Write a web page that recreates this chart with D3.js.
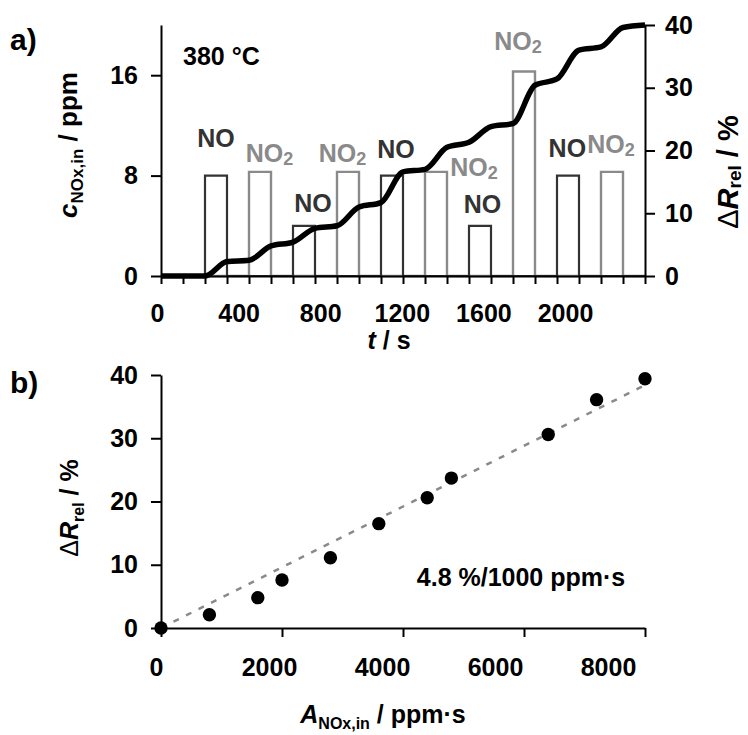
<!DOCTYPE html>
<html>
<head>
<meta charset="utf-8">
<script src="https://cdn.jsdelivr.net/npm/d3@7"></script>
<style>
  body { margin: 0; background: #fff; }
  text { font-family: "Liberation Sans", Arial, sans-serif; font-weight: bold; }
</style>
</head>
<body>
<script>
// panel a) gas pulses, step points (t in s, c in ppm)
var tNO  = [0, 200, 300, 600, 700, 1000, 1100, 1400, 1500, 1800, 1900, 2200];
var cNO  = [0, 8, 0, 4, 0, 8, 0, 4, 0, 8, 0, 0];
var tNO2 = [0, 400, 500, 800, 900, 1200, 1300, 1600, 1700, 2000, 2100, 2200];
var cNO2 = [0, 8.3, 0, 8.3, 0, 8.3, 0, 16.3, 0, 8.3, 0, 0];

// panel a) sensor response dR_rel (%)
var tResp = [0, 200, 300, 400, 500, 600, 700, 800, 900, 1000, 1100, 1200, 1300, 1400, 1500, 1600, 1700, 1800, 1900, 2000, 2100, 2200];
var dResp = [0, 0, 2.3, 2.5, 4.8, 5.4, 7.6, 8.0, 11.0, 11.7, 16.6, 17.0, 20.5, 21.3, 23.8, 24.3, 30.4, 31.4, 36.0, 36.5, 39.6, 40.0];

// pulse annotations (gas, t, c)
var pulseGas = ["NO", "NO2", "NO", "NO2", "NO", "NO2", "NO", "NO2", "NO", "NO2"];
var pulseLabT = [250, 493, 691, 825, 1068, 1423, 1461, 1623, 1847, 2045];
var pulseLabC = [10.3, 9.1, 5.1, 9.1, 9.4, 8.0, 5.0, 18.0, 9.5, 9.8];

var tTicks = [0, 400, 800, 1200, 1600, 2000];
var cTicks = [0, 8, 16];
var rTicks = [0, 10, 20, 30, 40];

// panel b) dR_rel vs. NOx dose
var doseA = [0, 800, 1600, 2000, 2800, 3600, 4400, 4800, 6400, 7200, 8000];
var doseR = [0, 2.1, 4.8, 7.6, 11.1, 16.5, 20.6, 23.7, 30.6, 36.1, 39.4];
var fitA = [0, 8000];
var fitR = [0, 38.4];
var aTicks = [0, 2000, 4000, 6000, 8000];

var svg = d3.select("body").append("svg")
    .attr("width", 748)
    .attr("height", 735);

var darkGray = "#333", lightGray = "#8a8a8a";
var fmt = d3.format("d");

// ---------- panel a ----------
var x = d3.scaleLinear().domain([0, 2200]).range([161, 645]);
var xLab = d3.scaleLinear().domain([0, 2000]).range([157, 565]);
var yL = d3.scaleLinear().domain([0, 20]).range([276, 25]);
var yR = d3.scaleLinear().domain([0, 40]).range([276, 25]);

function styleAxis(g) {
    g.selectAll("path, line").attr("stroke", "#000").attr("stroke-width", 2);
    g.selectAll("text").attr("font-size", 25).attr("fill", "#000")
        .attr("font-family", "Liberation Sans, Arial, sans-serif").attr("font-weight", "bold");
}

var stepLine = d3.line().curve(d3.curveStepAfter)
    .x(function (d) { return x(d[0]); })
    .y(function (d) { return yL(d[1]); });

svg.append("path")
    .datum(d3.zip(tNO2, cNO2))
    .attr("d", stepLine)
    .attr("fill", "none")
    .attr("stroke", lightGray)
    .attr("stroke-width", 2.4);

svg.append("path")
    .datum(d3.zip(tNO, cNO))
    .attr("d", stepLine)
    .attr("fill", "none")
    .attr("stroke", darkGray)
    .attr("stroke-width", 2.2);

// axes
svg.append("g")
    .attr("transform", "translate(0,276)")
    .call(d3.axisBottom(x).tickValues(d3.range(0, 2201, 100)).tickSize(8).tickSizeOuter(0).tickFormat(""))
    .call(styleAxis);

svg.append("g")
    .attr("transform", "translate(0,276)")
    .call(d3.axisBottom(xLab).tickValues(tTicks).tickSize(0).tickPadding(28).tickFormat(fmt))
    .call(styleAxis)
    .call(function (g) { g.select(".domain").remove(); });

svg.append("g")
    .attr("transform", "translate(161,0)")
    .call(d3.axisLeft(yL).tickValues(cTicks).tickSize(10).tickSizeOuter(0).tickPadding(13).tickFormat(fmt))
    .call(styleAxis);

svg.append("g")
    .attr("transform", "translate(645,0)")
    .call(d3.axisRight(yR).tickValues(rTicks).tickSize(10).tickSizeOuter(0).tickPadding(10).tickFormat(fmt))
    .call(styleAxis);

// response line
svg.append("path")
    .datum(d3.zip(tResp, dResp))
    .attr("d", d3.line().curve(d3.curveMonotoneX)
        .x(function (d) { return x(d[0]); })
        .y(function (d) { return yR(d[1]); }))
    .attr("fill", "none")
    .attr("stroke", "#000")
    .attr("stroke-width", 5.5)
    .attr("stroke-linejoin", "round");

// pulse labels
pulseGas.forEach(function (gas, i) {
    var t = svg.append("text")
        .attr("x", x(pulseLabT[i]))
        .attr("y", yL(pulseLabC[i]))
        .attr("text-anchor", "middle")
        .attr("font-size", 25)
        .attr("fill", gas === "NO" ? darkGray : lightGray);
    t.append("tspan").text("NO");
    if (gas === "NO2") {
        t.append("tspan").attr("font-size", 18).attr("dy", 3).text("2");
    }
});

svg.append("text").attr("x", 183).attr("y", 65).attr("font-size", 25).text("380 °C");

// rich text helper: parts = [text, size, italic, dy, weight]
function richText(xp, yp, rot, parts) {
    var t = svg.append("text")
        .attr("transform", "translate(" + xp + "," + yp + ") rotate(" + rot + ")")
        .attr("text-anchor", "middle");
    parts.forEach(function (p) {
        t.append("tspan")
            .attr("font-size", p[1])
            .attr("font-style", p[2] ? "italic" : "normal")
            .attr("font-weight", p[4] || "bold")
            .attr("dy", p[3] || 0)
            .text(p[0]);
    });
    return t;
}

richText(77, 145, -90, [["c", 26, true], ["NOx,in", 17, false, 6], [" / ppm", 26, false, -6]]);
richText(738, 172, -90, [["\u0394", 29, false, 0, "normal"], ["R", 29, true], ["rel", 19, false, 3], [" / %", 29, false, -3]]);
richText(389, 349, 0, [["t", 25, true], [" / s", 25, false]]);

svg.append("text").attr("x", 10).attr("y", 50).attr("font-size", 30).text("a)");

// ---------- panel b ----------
var xb = d3.scaleLinear().domain([0, 8000]).range([161, 645]);
var xbLab = d3.scaleLinear().domain([0, 8000]).range([156, 608]);
var yb = d3.scaleLinear().domain([0, 40]).range([628, 375]);

svg.append("g")
    .attr("transform", "translate(0,628)")
    .call(d3.axisBottom(xb).tickValues(aTicks).tickSize(9).tickSizeOuter(0).tickFormat(""))
    .call(styleAxis);

svg.append("g")
    .attr("transform", "translate(0,628)")
    .call(d3.axisBottom(xbLab).tickValues(aTicks).tickSize(0).tickPadding(30).tickFormat(fmt))
    .call(styleAxis)
    .call(function (g) { g.select(".domain").remove(); });

svg.append("g")
    .attr("transform", "translate(161,0)")
    .call(d3.axisLeft(yb).tickValues(rTicks).tickSize(10).tickSizeOuter(0).tickPadding(13).tickFormat(fmt))
    .call(styleAxis);

svg.append("path")
    .datum(d3.zip(fitA, fitR))
    .attr("d", d3.line()
        .x(function (d) { return xb(d[0]); })
        .y(function (d) { return yb(d[1]); }))
    .attr("fill", "none")
    .attr("stroke", lightGray)
    .attr("stroke-width", 2.5)
    .attr("stroke-dasharray", "6,8");

svg.selectAll("circle.pt")
    .data(d3.zip(doseA, doseR))
    .enter().append("circle")
    .attr("class", "pt")
    .attr("cx", function (d) { return xb(d[0]); })
    .attr("cy", function (d) { return yb(d[1]); })
    .attr("r", 6.7)
    .attr("fill", "#000");

svg.append("text").attr("x", 521).attr("y", 586).attr("text-anchor", "middle")
    .attr("font-size", 25).text("4.8 %/1000 ppm\u00b7s");

richText(78, 508, -90, [["\u0394", 25, false, 0, "normal"], ["R", 25, true], ["rel", 16, false, 6], [" / %", 25, false, -6]]);
richText(383, 723, 0, [["A", 25, true], ["NOx,in", 16, false, 6], [" / ppm\u00b7s", 25, false, -6]]);

svg.append("text").attr("x", 10).attr("y", 393).attr("font-size", 30).text("b)");
</script>
</body>
</html>
